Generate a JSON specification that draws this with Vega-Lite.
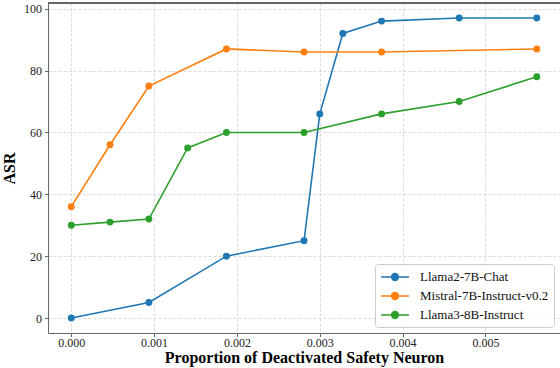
{
  "$schema": "https://vega.github.io/schema/vega-lite/v6.json",
  "width": 512,
  "height": 330,
  "autosize": {"type": "none"},
  "padding": {"left": 48, "top": 3, "right": 0, "bottom": 35},
  "background": "white",
  "config": {
    "view": {"stroke": null},
    "font": "Liberation Serif",
    "axis": {
      "labelFont": "Liberation Serif",
      "titleFont": "Liberation Serif",
      "labelFontSize": 12,
      "labelColor": "#222",
      "titleFontSize": 16,
      "titleFontWeight": "bold",
      "titleColor": "#000",
      "domainColor": "#666",
      "tickColor": "#666",
      "tickSize": 3.5,
      "grid": true,
      "gridColor": "#d0d0d0",
      "gridDash": [3, 2],
      "gridWidth": 0.8
    }
  },
  "data": {
    "values": [
      {"x": 0.0, "asr": 0, "model": "Llama2-7B-Chat"},
      {"x": 0.000937, "asr": 5, "model": "Llama2-7B-Chat"},
      {"x": 0.001873, "asr": 20, "model": "Llama2-7B-Chat"},
      {"x": 0.00281, "asr": 25, "model": "Llama2-7B-Chat"},
      {"x": 0.003, "asr": 66, "model": "Llama2-7B-Chat"},
      {"x": 0.003278, "asr": 92, "model": "Llama2-7B-Chat"},
      {"x": 0.003746, "asr": 96, "model": "Llama2-7B-Chat"},
      {"x": 0.004683, "asr": 97, "model": "Llama2-7B-Chat"},
      {"x": 0.00562, "asr": 97, "model": "Llama2-7B-Chat"},
      {"x": 0.0, "asr": 36, "model": "Mistral-7B-Instruct-v0.2"},
      {"x": 0.000468, "asr": 56, "model": "Mistral-7B-Instruct-v0.2"},
      {"x": 0.000937, "asr": 75, "model": "Mistral-7B-Instruct-v0.2"},
      {"x": 0.001873, "asr": 87, "model": "Mistral-7B-Instruct-v0.2"},
      {"x": 0.00281, "asr": 86, "model": "Mistral-7B-Instruct-v0.2"},
      {"x": 0.003746, "asr": 86, "model": "Mistral-7B-Instruct-v0.2"},
      {"x": 0.00562, "asr": 87, "model": "Mistral-7B-Instruct-v0.2"},
      {"x": 0.0, "asr": 30, "model": "Llama3-8B-Instruct"},
      {"x": 0.000468, "asr": 31, "model": "Llama3-8B-Instruct"},
      {"x": 0.000937, "asr": 32, "model": "Llama3-8B-Instruct"},
      {"x": 0.001405, "asr": 55, "model": "Llama3-8B-Instruct"},
      {"x": 0.001873, "asr": 60, "model": "Llama3-8B-Instruct"},
      {"x": 0.00281, "asr": 60, "model": "Llama3-8B-Instruct"},
      {"x": 0.003746, "asr": 66, "model": "Llama3-8B-Instruct"},
      {"x": 0.004683, "asr": 70, "model": "Llama3-8B-Instruct"},
      {"x": 0.00562, "asr": 78, "model": "Llama3-8B-Instruct"}
    ]
  },
  "layer": [
    {
      "mark": {"type": "line", "strokeWidth": 1.6, "clip": true, "point": {"size": 48, "filled": true, "opacity": 1}},
      "encoding": {
        "x": {
          "field": "x",
          "type": "quantitative",
          "scale": {"domain": [-0.000281, 0.0059], "nice": false, "zero": false},
          "axis": {"values": [0, 0.001, 0.002, 0.003, 0.004, 0.005], "format": ".3f", "title": "Proportion of Deactivated Safety Neuron", "labelPadding": 1, "titlePadding": 1, "grid": true}
        },
        "y": {
          "field": "asr",
          "type": "quantitative",
          "scale": {"domain": [-4.85, 101.85], "nice": false, "zero": false},
          "axis": {"values": [0, 20, 40, 60, 80, 100], "title": "ASR", "labelPadding": 3, "titlePadding": 6, "grid": true}
        },
        "color": {
          "field": "model",
          "type": "nominal",
          "scale": {
            "domain": ["Llama2-7B-Chat", "Mistral-7B-Instruct-v0.2", "Llama3-8B-Instruct"],
            "range": ["#1f77b4", "#ff7f0e", "#2ca02c"]
          },
          "legend": {
            "title": null,
            "orient": "bottom-right",
            "offset": 6,
            "padding": 5,
            "cornerRadius": 3,
            "strokeColor": "#cccccc",
            "fillColor": "rgba(255,255,255,0.8)",
            "labelFont": "Liberation Serif",
            "labelFontSize": 13,
            "labelColor": "#111",
            "labelOffset": 17,
            "symbolOffset": 7,
            "rowPadding": 4,
            "symbolType": "M-2,0L2,0M-0.48,0a0.48,0.48 0 1,0 0.96,0a0.48,0.48 0 1,0 -0.96,0",
            "symbolSize": 196,
            "symbolStrokeWidth": 1.6,
            "encode": {"symbols": {"update": {"fill": {"scale": "color", "field": "value"}, "fillOpacity": {"value": 1}}}}
          }
        }
      }
    },
    {
      "mark": {"type": "rule", "color": "#666", "strokeWidth": 1},
      "encoding": {"y": {"datum": 101.85, "type": "quantitative"}}
    }
  ]
}
